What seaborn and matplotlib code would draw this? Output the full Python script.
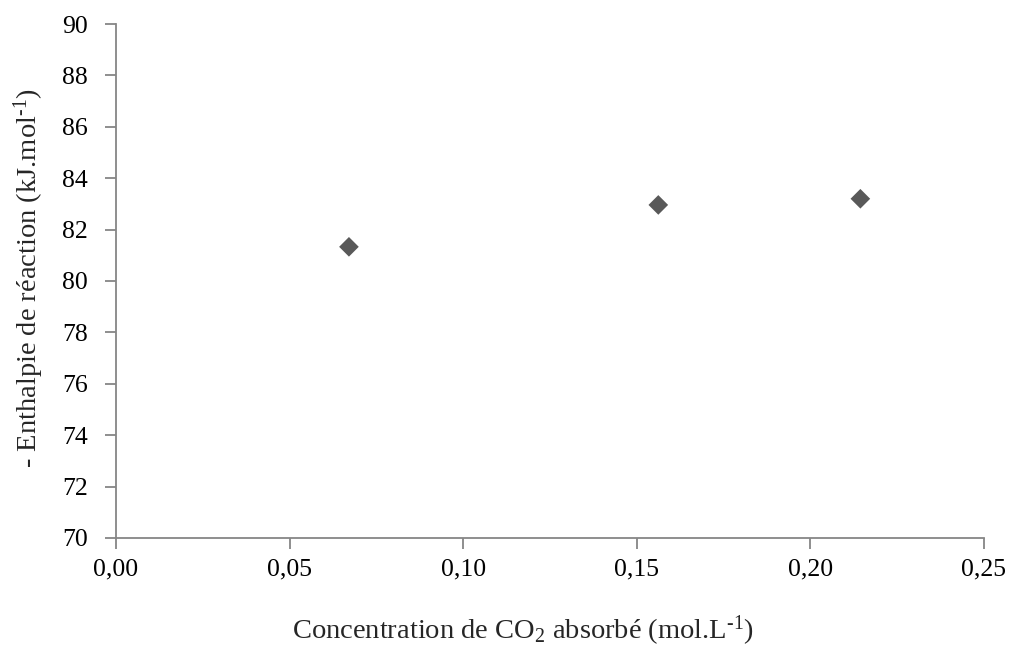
import numpy as np
import pandas as pd
import seaborn as sns
import matplotlib.pyplot as plt
from matplotlib.ticker import FuncFormatter, MultipleLocator

# valeurs
concentration = [0.0671, 0.1562, 0.2144]
enthalpie = [81.33, 82.96, 83.20]

df = pd.DataFrame({'conc': concentration, 'dh': enthalpie})

sns.set_style('white')
plt.rcParams['font.family'] = ['Liberation Serif', 'DejaVu Serif']
plt.rcParams['mathtext.fontset'] = 'custom'
plt.rcParams['mathtext.rm'] = 'Liberation Serif'
plt.rcParams['mathtext.it'] = 'Liberation Serif:italic'
plt.rcParams['mathtext.default'] = 'regular'

fig = plt.figure(figsize=(10.12, 6.56), dpi=100)
ax = fig.add_axes([0.1146, 0.1799, 0.8577, 0.7835])

sns.scatterplot(data=df, x='conc', y='dh', marker='D', s=100, color='#595959',
                edgecolor='none', ax=ax)

ax.set_xlim(0, 0.25)
ax.set_ylim(70, 90)
ax.xaxis.set_major_locator(MultipleLocator(0.05))
ax.yaxis.set_major_locator(MultipleLocator(2))
ax.xaxis.set_major_formatter(FuncFormatter(lambda v, p: f'{v:.2f}'.replace('.', ',')))
ax.yaxis.set_major_formatter(FuncFormatter(lambda v, p: f'{v:.0f}'))

gris = '#868686'
for s in ['top', 'right']:
    ax.spines[s].set_visible(False)
for s in ['left', 'bottom']:
    ax.spines[s].set_color(gris)
    ax.spines[s].set_linewidth(1.3)
ax.tick_params(axis='both', direction='out', length=8, width=1.3, color=gris,
               labelsize=18.5, labelcolor='black', bottom=True, left=True)
ax.tick_params(axis='x', pad=7)
ax.tick_params(axis='y', pad=12)

ax.set_xlabel('Concentration de CO$_2$ absorbé (mol.L$^{\\text{-}1}$)', fontsize=20.5, va='center')
ax.set_ylabel('- Enthalpie de réaction (kJ.mol$^{\\text{-}1}$)', fontsize=20.5, va='center')
ax.xaxis.set_label_coords(0.469, -0.181)
ax.yaxis.set_label_coords(-0.10, 0.506)

fig.savefig('out.png', dpi=100)
